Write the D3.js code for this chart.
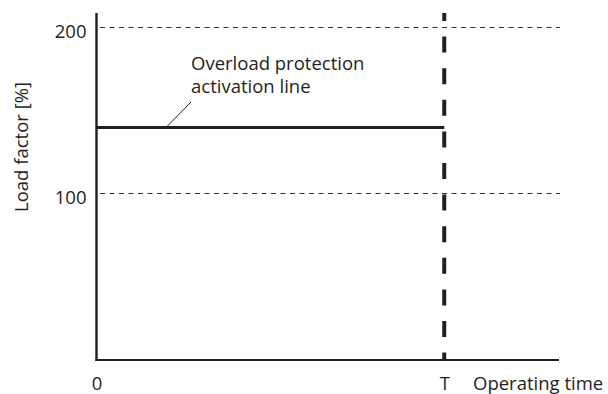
<!DOCTYPE html>
<html>
<head>
<meta charset="utf-8">
<script src="https://cdn.jsdelivr.net/npm/d3@7"></script>
<style>
  body { margin: 0; background: #fff; }
  text { font-family: "Open Sans", sans-serif; fill: #231f20; }
</style>
</head>
<body>
<svg id="chart" width="608" height="394"></svg>
<script>
// 数据
var yTicks = [100, 200];
var xTicks = [0, 1];
var xTickLabels = ["0", "T"];
var thresholdLoad = 140;   // Overload protection activation line
var timeT = 1;
var annotation = ["Overload protection", "activation line"];

var svg = d3.select("#chart");
var ink = "#231f20";
var fs = "18.5px";

var x = d3.scaleLinear().domain([0, 1.33]).range([96.5, 559]);
var y = d3.scaleLinear().domain([0, 209]).range([360, 13]);

// gridlines (snapped to pixel so they stay crisp)
svg.selectAll(".grid")
  .data(yTicks)
  .enter()
  .append("line")
  .attr("class", "grid")
  .attr("x1", x(0) + 3.5).attr("x2", x(1.33) + 1)
  .attr("y1", d => Math.floor(y(d)) + 0.5).attr("y2", d => Math.floor(y(d)) + 0.5)
  .attr("stroke", "#333")
  .attr("stroke-width", 1)
  .attr("stroke-dasharray", "5,4.5");

// y axis labels
var yAxis = d3.axisLeft(y).tickValues(yTicks).tickSize(0).tickPadding(10);
var gy = svg.append("g").attr("transform", `translate(${x(0)},0)`).call(yAxis);
gy.select(".domain").remove();
gy.selectAll("text")
  .attr("dy", "0.54em")
  .style("font-size", fs).attr("fill", ink).attr("font-family", "Open Sans");

// x axis labels
var xAxis = d3.axisBottom(x).tickValues(xTicks).tickFormat((d, i) => xTickLabels[i]).tickSize(0);
var gx = svg.append("g").attr("transform", `translate(0,${y(0)})`).call(xAxis);
gx.select(".domain").remove();
gx.selectAll("text")
  .attr("y", 29.5).attr("dy", 0)
  .style("font-size", fs).attr("fill", ink).attr("font-family", "Open Sans");

svg.append("text")
  .attr("x", 473).attr("y", 389.5)
  .style("font-size", fs)
  .text("Operating time");

svg.append("text")
  .attr("transform", "translate(28,147) rotate(-90)")
  .attr("text-anchor", "middle")
  .style("font-size", fs)
  .text("Load factor [%]");

// T vertical dashed line
svg.append("line")
  .attr("x1", x(timeT)).attr("x2", x(timeT))
  .attr("y1", y(209)).attr("y2", y(0))
  .attr("stroke", ink)
  .attr("stroke-width", 4)
  .attr("stroke-dasharray", "16,15.6")
  .attr("stroke-dashoffset", 8);

// overload protection line
svg.append("line")
  .attr("x1", x(0)).attr("x2", x(timeT))
  .attr("y1", y(thresholdLoad)).attr("y2", y(thresholdLoad))
  .attr("stroke", ink)
  .attr("stroke-width", 3);

// axes
svg.append("line")
  .attr("x1", x(0)).attr("x2", x(0))
  .attr("y1", y(209)).attr("y2", y(0) + 1)
  .attr("stroke", ink).attr("stroke-width", 2.4);
svg.append("line")
  .attr("x1", x(0) - 1).attr("x2", x(1.33))
  .attr("y1", y(0)).attr("y2", y(0))
  .attr("stroke", ink).attr("stroke-width", 2);

// annotation
svg.append("line")
  .attr("x1", 166).attr("y1", y(thresholdLoad))
  .attr("x2", 191).attr("y2", 102)
  .attr("stroke", ink).attr("stroke-width", 1);

svg.selectAll(".ann")
  .data(annotation)
  .enter()
  .append("text")
  .attr("class", "ann")
  .attr("x", 191)
  .attr("y", (d, i) => 70 + i * 23)
  .style("font-size", fs)
  .text(d => d);
</script>
</body>
</html>
